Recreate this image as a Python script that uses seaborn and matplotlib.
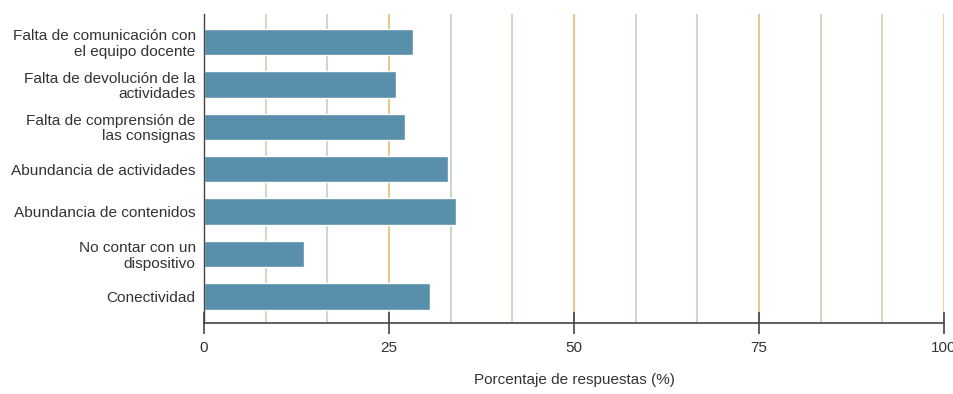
import matplotlib
matplotlib.use("Agg")
import matplotlib.pyplot as plt
import seaborn as sns
import pandas as pd
import numpy as np

categories = [
    "Falta de comunicación con\nel equipo docente",
    "Falta de devolución de la\nactividades",
    "Falta de comprensión de\nlas consignas",
    "Abundancia de actividades",
    "Abundancia de contenidos",
    "No contar con un\ndispositivo",
    "Conectividad",
]
values = [28.2, 25.9, 27.2, 33.0, 34.1, 13.5, 30.5]
major_ticks = [0, 25, 50, 75, 100]
tick_labels = ["0", "25", "50", "75", "100"]

sns.set_theme(style="white")
plt.rcParams["font.family"] = ["Liberation Sans", "DejaVu Sans"]

df = pd.DataFrame({"cat": categories, "val": values})

fig = plt.figure(figsize=(9.54, 3.94), dpi=100)
ax = fig.add_axes([0.2138, 0.181, 0.9895 - 0.2138, 0.9645 - 0.181])

# grid lines
for g in np.arange(1, 12) * 100 / 12:
    ax.axvline(g, color="#bfd0b0", lw=1.1, zorder=0)
for g in [25, 50, 75, 100]:
    ax.axvline(g, color="#f3c27a", lw=1.1, zorder=0)

sns.barplot(data=df, y="cat", x="val", orient="h", color="#5a8fab",
            saturation=1, width=0.62, ax=ax, zorder=2)

ax.set_xlim(0, 100)
ax.set_ylim(6.62, -0.66)
ax.set_xticks(major_ticks)
ax.set_xticklabels(tick_labels)
ax.set_ylabel("")
ax.set_xlabel("Porcentaje de respuestas (%)", fontsize=11, color="#333333", labelpad=13)

for s in ["top", "right"]:
    ax.spines[s].set_visible(False)
ax.spines["left"].set_color("#444444")
ax.spines["bottom"].set_color("#444444")
ax.spines["left"].set_linewidth(1.0)
ax.spines["bottom"].set_linewidth(1.2)

ax.tick_params(axis="x", direction="inout", length=16, width=1.2, color="#444444",
               labelsize=11, labelcolor="#333333", pad=5, bottom=True)
ax.tick_params(axis="y", length=0, labelsize=11.1, labelcolor="#333333", pad=6)
for t in ax.get_yticklabels():
    t.set_multialignment("right")
    t.set_linespacing(1.1)

fig.savefig("out.png", dpi=100)
